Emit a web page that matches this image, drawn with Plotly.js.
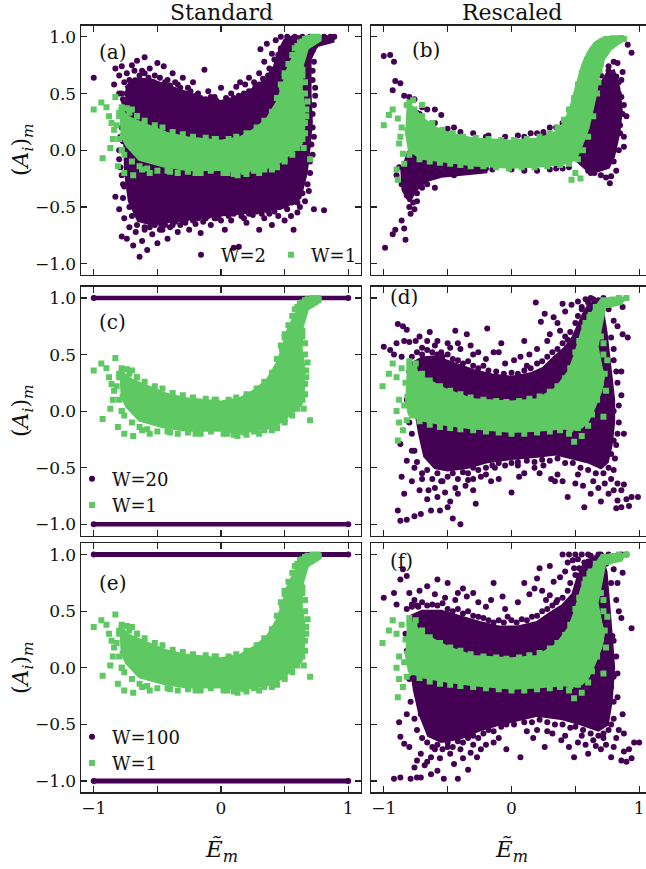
<!DOCTYPE html>
<html><head><meta charset="utf-8">
<script src="https://cdn.plot.ly/plotly-3.0.1.min.js"></script>
<style>html,body{margin:0;padding:0;overflow:hidden;background:#fff}#chart{width:656px;height:869px}</style>
</head><body><div id="chart"></div>
<script>
// ---------- DATA ----------
const panelLabels = ['(a)','(b)','(c)','(d)','(e)','(f)'];
const columnTitles = ['Standard','Rescaled'];
const xTickVals = [-1,0,1];
const xTickText = ['\u22121','0','1'];
const xMinorVals = [-0.5,0.5];
const yTickVals = [-1,-0.5,0,0.5,1];
const yTickText = ['\u22121.0','\u22120.5','0.0','0.5','1.0'];
const legendNames = {a:['W=2','W=1'], c:['W=20','W=1'], e:['W=100','W=1']};

// W=1, standard (panels a, c, e): dense core outline + scattered points
const stdGreenCoreX = [-0.8,-0.74,-0.69,-0.56,-0.43,-0.27,0,0.15,0.26,0.36,0.44,0.49,0.52,0.56,0.6,0.65,0.7,0.78,0.78,0.68,0.64,0.63,0.65,0.65,0.63,0.55,0.42,0.15,0,-0.27,-0.45,-0.64,-0.74,-0.79];
const stdGreenCoreY = [0.38,0.3,0.27,0.21,0.15,0.11,0.08,0.11,0.18,0.27,0.42,0.57,0.7,0.8,0.88,0.94,0.98,1.0,0.97,0.9,0.75,0.55,0.4,0.2,0.06,-0.02,-0.14,-0.19,-0.17,-0.17,-0.14,-0.08,0.04,0.15];
const stdGreenX = [-1.0,-0.94,-0.9,-0.88,-0.83,-0.86,-0.84,-0.85,-0.93,-0.87,-0.81,-0.76,-0.69,-0.62,-0.56,-0.74,-0.7,-0.66,0.13,0.4,0.3,0.6,0.64,0.61,0.66,0.68,0.67,0.66,0.65,0.7,0.55,0.58,0.62,0.66,0.72,0.76,0.5,0.48,-0.2,-0.4,0.2,0.5,-0.8,-0.78,0.05,-0.05,
  -0.78,-0.72,-0.66,-0.6,-0.52,-0.46,-0.38,-0.3,-0.22,-0.12,-0.04,0.06,0.12,0.2,0.28,0.34,0.4,0.44,0.47,0.5,0.53,0.56,0.6,0.64,0.68,
  -0.76,-0.7,-0.64,-0.58,-0.5,-0.42,-0.34,-0.26,-0.16,-0.08,0.02,0.1,0.18,0.26,0.34,0.44,0.5,0.56,0.6,0.66,0.64,0.67,0.66,0.64,-0.8,-0.82,-0.8,-0.78,0.7,0.74];
const stdGreenY = [0.36,0.42,0.38,0.3,0.47,0.24,0.18,0.1,-0.07,0.02,-0.14,-0.2,-0.22,-0.17,-0.2,0.37,0.36,0.3,-0.22,-0.17,-0.2,0.8,0.71,0.54,0.5,0.43,0.3,0.15,0.02,-0.08,0.75,0.9,0.95,0.98,1.0,1.0,0.65,0.55,-0.2,-0.19,-0.21,-0.1,0.33,0.0,-0.2,0.1,
  0.38,0.33,0.3,0.26,0.22,0.2,0.16,0.14,0.12,0.11,0.1,0.1,0.12,0.15,0.2,0.26,0.34,0.46,0.58,0.68,0.76,0.84,0.92,0.96,0.99,
  -0.04,-0.1,-0.14,-0.16,-0.18,-0.18,-0.2,-0.19,-0.2,-0.18,-0.2,-0.21,-0.19,-0.18,-0.17,-0.15,-0.08,-0.04,0.02,0.6,0.66,0.36,0.24,0.1,0.3,0.22,0.1,0.0,0.94,0.97];

// W=1, rescaled (panels d, f)
const resGreenCoreX = [-0.82,-0.75,-0.7,-0.5,-0.3,0,0.2,0.35,0.45,0.5,0.55,0.6,0.65,0.7,0.78,0.88,0.86,0.73,0.7,0.67,0.7,0.72,0.7,0.65,0.6,0.55,0.48,0.4,0.2,0,-0.3,-0.5,-0.7,-0.8,-0.83];
const resGreenCoreY = [0.38,0.36,0.3,0.18,0.1,0.08,0.1,0.2,0.35,0.5,0.7,0.8,0.9,0.98,1.0,1.0,0.95,0.92,0.74,0.57,0.4,0.3,0.18,0.04,-0.08,-0.14,-0.16,-0.15,-0.17,-0.18,-0.15,-0.12,-0.08,-0.03,0.15];
const resGreenX = [-1.01,-0.96,-0.93,-0.9,-0.86,-0.88,-0.9,-0.88,-0.85,-0.89,-0.8,-0.75,0.49,0.45,0.55,0.6,0.74,0.73,0.75,0.72,0.8,0.9,0.62,0.58,0.68,0.72,0.67,
  -0.8,-0.76,-0.7,-0.64,-0.56,-0.48,-0.4,-0.32,-0.22,-0.12,-0.04,0.06,0.14,0.22,0.3,0.36,0.42,0.46,0.5,0.53,0.57,0.61,0.66,0.72,0.84,
  -0.78,-0.72,-0.64,-0.56,-0.48,-0.4,-0.3,-0.2,-0.1,0.0,0.1,0.2,0.3,0.38,0.46,0.52,0.58,0.63,0.7,0.72,0.7,0.76,-0.83,-0.84,-0.82];
const resGreenY = [0.22,0.33,0.42,0.3,0.38,0.1,0.0,-0.1,-0.17,-0.26,0.44,0.42,-0.27,-0.2,-0.22,-0.13,0.18,0.33,0.45,0.6,0.97,1.0,0.85,0.78,0.82,-0.05,0.1,
  0.4,0.38,0.33,0.27,0.22,0.18,0.15,0.12,0.1,0.09,0.08,0.09,0.11,0.13,0.17,0.22,0.29,0.38,0.52,0.62,0.74,0.83,0.92,0.98,1.0,
  -0.04,-0.09,-0.12,-0.14,-0.15,-0.16,-0.17,-0.18,-0.19,-0.2,-0.2,-0.19,-0.18,-0.17,-0.16,-0.15,-0.1,-0.03,0.25,0.5,0.66,0.94,0.25,0.05,-0.08];

// W=1 in panel (b)
const bGreenCoreX = [-0.82,-0.75,-0.7,-0.6,-0.5,-0.3,0,0.2,0.3,0.38,0.43,0.47,0.5,0.53,0.56,0.6,0.65,0.7,0.78,0.86,0.86,0.78,0.72,0.68,0.66,0.63,0.6,0.55,0.5,0.4,0.2,0,-0.3,-0.5,-0.7,-0.8,-0.83];
const bGreenCoreY = [0.42,0.35,0.28,0.2,0.15,0.1,0.08,0.1,0.13,0.18,0.28,0.4,0.52,0.65,0.76,0.86,0.94,0.98,1.0,1.0,0.96,0.9,0.8,0.65,0.5,0.35,0.2,0.05,-0.08,-0.12,-0.14,-0.15,-0.13,-0.1,-0.07,0.0,0.2];
const bGreenX = [-1.0,-0.96,-0.93,-0.89,-0.87,-0.88,-0.85,-0.89,-0.84,-0.8,-0.77,-0.7,0.47,0.54,0.5,0.78,0.88,0.82,0.72,0.69,0.68,-0.9,-0.86,
  -0.82,-0.76,-0.7,-0.62,-0.54,-0.46,-0.38,-0.28,-0.18,-0.08,0.02,0.12,0.22,0.3,0.36,0.41,0.45,0.49,0.52,0.55,0.59,0.63,0.68,0.74,0.86,
  -0.8,-0.72,-0.64,-0.56,-0.48,-0.4,-0.32,-0.22,-0.12,-0.02,0.08,0.18,0.28,0.38,0.45,0.52,0.56,0.6,0.64,0.67,0.7];
const bGreenY = [0.22,0.31,0.36,0.28,0.12,0.06,-0.03,-0.26,-0.12,0.42,0.44,0.4,-0.26,-0.25,-0.2,0.92,0.98,0.98,0.85,0.7,0.6,-0.17,0.2,
  0.4,0.36,0.3,0.24,0.18,0.15,0.12,0.11,0.1,0.09,0.09,0.1,0.12,0.15,0.2,0.27,0.36,0.46,0.58,0.68,0.8,0.88,0.94,0.98,0.99,
  -0.04,-0.08,-0.1,-0.11,-0.12,-0.13,-0.14,-0.14,-0.15,-0.16,-0.15,-0.15,-0.14,-0.13,-0.12,-0.08,0.0,0.12,0.3,0.5,0.76];

// W=2 (panel a)
const aPurpleCoreX = [-0.75,-0.68,-0.55,-0.45,-0.3,-0.15,0,0.12,0.25,0.35,0.42,0.46,0.5,0.56,0.88,0.88,0.75,0.7,0.7,0.71,0.69,0.67,0.62,0.5,0.4,0.2,0,-0.2,-0.4,-0.55,-0.65,-0.72,-0.75,-0.76];
const aPurpleCoreY = [0.55,0.63,0.62,0.58,0.52,0.46,0.43,0.45,0.54,0.62,0.74,0.88,0.97,1.0,1.0,0.96,0.92,0.8,0.5,0.25,0.0,-0.2,-0.42,-0.5,-0.52,-0.55,-0.57,-0.6,-0.63,-0.65,-0.62,-0.45,-0.2,0.2];
const aPurpleX = [-1.0,-0.83,-0.8,-0.84,-0.78,-0.76,-0.74,-0.8,-0.77,-0.7,-0.66,-0.62,-0.6,-0.56,-0.52,-0.5,-0.45,-0.42,-0.38,-0.34,-0.3,-0.26,-0.22,-0.18,-0.13,-0.1,-0.05,0.0,0.04,0.08,0.12,0.15,0.19,0.22,0.26,0.3,0.31,0.34,0.36,0.38,0.4,0.43,0.47,0.52,0.58,0.64,0.7,0.76,0.81,0.86,0.89,0.74,0.7,0.72,0.74,0.73,0.72,0.71,0.7,0.68,0.66,
  0.73,0.81,0.6,0.57,0.5,0.45,0.4,0.34,0.3,0.25,0.2,0.14,0.1,0.08,0.03,-0.02,-0.08,-0.12,-0.16,-0.2,-0.25,-0.3,-0.34,-0.38,-0.42,-0.46,-0.5,-0.54,-0.58,-0.62,-0.64,-0.67,-0.69,-0.72,-0.74,-0.78,-0.76,-0.8,-0.83,-0.77,-0.79,-0.8,-0.78,-0.78,-0.6,-0.47,-0.28,-0.05,0.18,0.38,0.55,0.62,
  -0.74,-0.72,-0.68,-0.64,-0.6,-0.57,-0.53,-0.48,-0.44,-0.4,-0.36,-0.32,-0.28,-0.24,-0.2,-0.16,-0.12,-0.08,-0.04,0.02,0.06,0.1,0.14,0.18,0.22,0.27,0.3,0.33,0.37,0.4,0.42,0.45,0.47,0.5,0.54,0.6,0.66,0.62,
  -0.72,-0.7,-0.66,-0.6,-0.56,-0.52,-0.48,-0.44,-0.4,-0.36,-0.32,-0.28,-0.22,-0.18,-0.14,-0.1,-0.04,0.0,0.06,0.1,0.16,0.22,0.28,0.32,0.36,0.42,0.46,0.52,0.56,0.6,0.64,
  -0.77,-0.76,-0.78,-0.8,-0.77,-0.79,-0.76,-0.78,0.72,0.73,0.72,0.74,0.72,0.73,0.72,0.7,0.69];
const aPurpleY = [0.64,0.72,0.66,0.58,0.74,0.6,0.68,0.5,0.45,0.75,0.79,0.7,0.82,0.72,0.66,0.77,0.74,0.62,0.68,0.58,0.64,0.55,0.6,0.5,0.71,0.52,0.47,0.55,0.46,0.5,0.56,0.6,0.58,0.64,0.6,0.68,0.89,0.78,0.94,0.72,0.85,0.97,1.0,1.0,1.0,1.0,1.0,0.99,1.0,1.0,1.0,0.92,0.85,0.7,0.55,0.4,0.2,0.05,-0.1,-0.3,-0.45,
  -0.52,-0.53,-0.55,-0.7,-0.62,-0.58,-0.66,-0.6,-0.7,-0.57,-0.64,-0.85,-0.86,-0.62,-0.7,-0.58,-0.66,-0.6,-0.73,-0.65,-0.7,-0.62,-0.72,-0.66,-0.78,-0.7,-0.82,-0.74,-0.88,-0.8,-0.94,-0.72,-0.84,-0.68,-0.78,-0.76,-0.6,-0.52,-0.41,-0.3,-0.15,0.0,0.2,0.35,-0.68,-0.66,-0.64,-0.6,-0.6,-0.56,-0.58,-0.5,
  0.5,0.62,0.7,0.66,0.68,0.64,0.6,0.64,0.6,0.57,0.6,0.55,0.5,0.52,0.48,0.46,0.45,0.47,0.44,0.42,0.44,0.46,0.48,0.5,0.52,0.56,0.58,0.63,0.66,0.7,0.8,0.84,0.9,0.93,0.97,0.97,0.98,0.93,
  -0.5,-0.58,-0.66,-0.7,-0.68,-0.66,-0.7,-0.66,-0.68,-0.63,-0.66,-0.62,-0.62,-0.6,-0.63,-0.58,-0.6,-0.62,-0.58,-0.56,-0.58,-0.56,-0.54,-0.56,-0.53,-0.54,-0.5,-0.52,-0.46,-0.46,-0.38,
  -0.42,-0.32,-0.22,-0.08,0.08,0.12,0.42,0.5,0.88,0.78,0.62,0.48,0.32,0.12,-0.04,-0.2,-0.36];

// W=2 (panel b)
const bPurpleCoreLX = [-0.82,-0.6,-0.4,-0.2,-0.2,-0.4,-0.55,-0.67,-0.75,-0.8,-0.85,-0.86];
const bPurpleCoreLY = [-0.02,-0.09,-0.12,-0.13,-0.19,-0.21,-0.23,-0.27,-0.35,-0.45,-0.35,-0.15];
const bPurpleCoreRX = [0.6,0.68,0.75,0.8,0.84,0.86,0.84,0.8,0.76,0.68,0.58,0.52,0.56];
const bPurpleCoreRY = [0.3,0.55,0.68,0.7,0.55,0.35,0.15,-0.05,-0.15,-0.18,-0.16,-0.1,0.1];
const bPurpleX = [-1.0,-0.95,-0.92,-0.91,-0.87,-0.93,-0.84,-0.8,-0.76,-0.7,-0.6,-0.55,-0.45,-0.3,-0.18,-0.05,0.05,0.15,0.2,0.3,-0.88,-0.9,-0.86,-0.82,-0.8,-0.77,-0.74,-0.7,-0.66,-0.6,-0.79,-0.86,-0.84,-0.91,-0.93,-0.83,-0.99,-0.45,-0.2,0.0,0.2,0.35,0.45,
  0.91,0.94,0.8,0.83,0.87,0.79,0.84,0.86,0.88,0.87,0.85,0.88,0.84,0.8,0.78,0.77,0.7,0.65,0.6,0.85,0.82,0.76,-0.82,-0.74,-0.66,0.1,0.25,
  -0.6,-0.5,-0.4,-0.2,0.1,0.25,0.35,0.4,-0.7,-0.6,-0.5,-0.35,-0.15,0.1,0.3,0.4,-0.78,-0.82,-0.76,-0.74,-0.72,0.66,0.7,0.76,0.9,0.88,0.84,0.86,0.82,0.74,0.62,-0.8,-0.78,-0.72];
const bPurpleY = [0.83,0.84,0.78,0.61,0.59,0.53,0.48,0.47,0.45,0.38,0.36,0.31,0.2,0.15,0.13,0.12,0.13,0.15,0.15,0.2,-0.15,-0.22,-0.3,-0.4,-0.5,-0.46,-0.38,-0.33,-0.3,-0.33,-0.56,-0.62,-0.69,-0.7,-0.74,-0.79,-0.86,-0.22,-0.16,-0.17,-0.18,-0.16,-0.15,
  0.93,0.86,0.78,0.77,0.69,0.59,0.6,0.47,0.4,0.32,0.22,0.03,0.0,-0.1,-0.23,-0.29,-0.22,-0.2,-0.18,0.15,0.65,0.7,0.4,0.33,0.36,-0.17,0.14,
  0.24,0.19,0.16,0.12,0.12,0.16,0.2,0.24,-0.16,-0.2,-0.19,-0.18,-0.17,-0.18,-0.17,-0.16,-0.3,-0.28,-0.52,-0.45,-0.28,0.6,0.66,0.74,0.3,0.12,0.5,0.62,-0.18,-0.24,-0.2,0.3,0.26,0.32];

// W=20 / W=100 (panels c, e): all values at exactly +1 and -1
const flatX = [-1, 1];
const flatTopY = [1, 1];
const flatBotY = [-1, -1];

// W=2 rescaled (panel d)
const dPurpleCoreX = [-0.78,-0.7,-0.6,-0.5,-0.4,-0.3,-0.15,0,0.15,0.25,0.33,0.42,0.48,0.52,0.56,0.6,0.66,0.7,0.72,0.74,0.76,0.78,0.8,0.8,0.78,0.75,0.7,0.6,0.5,0.35,0.2,0,-0.2,-0.35,-0.5,-0.6,-0.68,-0.72,-0.75,-0.78];
const dPurpleCoreY = [0.42,0.47,0.48,0.44,0.4,0.36,0.32,0.3,0.33,0.38,0.47,0.56,0.65,0.75,0.85,0.93,0.97,0.98,0.85,0.7,0.5,0.3,0.1,-0.1,-0.3,-0.45,-0.5,-0.45,-0.42,-0.38,-0.4,-0.42,-0.45,-0.5,-0.52,-0.5,-0.4,-0.2,0.0,0.2];
const dPurpleX = [-0.89,-0.85,-0.82,-1.0,-0.95,-0.92,-0.8,-0.75,-0.7,-0.66,-0.6,-0.55,-0.5,-0.44,-0.35,-0.4,-0.3,-0.19,-0.2,-0.1,-0.05,0.07,0.12,0.19,0.23,0.2,0.28,0.33,0.38,0.42,0.47,0.52,0.58,0.62,0.68,0.72,0.55,0.87,0.87,0.91,0.83,0.8,0.86,0.83,0.86,0.8,0.84,0.88,0.82,
  -0.87,-0.82,-0.86,-0.84,-0.89,-0.87,-0.82,-0.76,-0.71,-0.63,-0.56,-0.5,-0.4,-0.46,-0.58,-0.42,-0.34,-0.24,-0.13,0.0,0.18,0.31,0.34,0.44,0.5,0.57,0.62,0.73,0.76,0.83,0.86,0.88,0.83,0.86,0.94,0.99,0.8,0.78,0.8,-0.7,-0.65,-0.76,-0.78,-0.8,-0.82,-0.78,-0.1,0.1,0.25,0.05,-0.3,-0.55,
  -0.78,-0.74,-0.7,-0.66,-0.62,-0.58,-0.54,-0.5,-0.46,-0.42,-0.38,-0.34,-0.3,-0.26,-0.22,-0.18,-0.12,-0.06,0.0,0.05,0.1,0.15,0.2,0.24,0.28,0.32,0.36,0.4,0.44,0.46,0.5,0.52,0.55,0.6,0.64,
  -0.9,-0.86,-0.84,-0.72,-0.64,-0.58,-0.48,-0.42,-0.32,-0.26,-0.14,-0.08,0.02,0.1,0.14,0.3,0.36,0.42,0.26,0.4,
  -0.74,-0.7,-0.66,-0.62,-0.58,-0.54,-0.5,-0.46,-0.42,-0.38,-0.34,-0.3,-0.26,-0.2,-0.15,-0.1,-0.05,0.0,0.05,0.12,0.18,0.24,0.3,0.36,0.42,0.48,0.54,0.6,0.66,0.72,0.76,
  -0.78,-0.72,-0.66,-0.6,-0.52,-0.48,-0.44,-0.36,-0.3,-0.28,-0.16,-0.2,0.06,0.22,0.36,0.4,0.52,0.56,0.64,0.68,0.7,0.78,0.8,0.9,0.92,0.82,
  0.8,0.78,0.8,0.82,0.84,0.83,0.81,0.76,0.72,-0.8,-0.8,-0.79,-0.78,-0.76];
const dPurpleY = [0.77,0.75,0.72,0.57,0.54,0.5,0.61,0.62,0.56,0.62,0.58,0.52,0.6,0.71,0.68,0.55,0.5,0.73,0.46,0.52,0.42,0.48,0.4,0.96,0.79,0.55,0.62,0.83,0.71,0.66,0.94,0.97,0.99,1.0,0.98,0.95,0.9,0.92,0.68,0.65,0.75,0.55,0.35,0.25,0.14,0.0,-0.1,-0.2,-0.3,
  -0.29,-0.44,-0.58,-0.73,-0.88,-0.97,-0.96,-0.93,-0.91,-0.88,-0.88,-0.85,-1.0,-0.95,-0.76,-0.73,-0.61,-0.58,-0.5,-0.72,-0.5,-0.6,-0.62,-0.76,-0.64,-0.85,-0.73,-0.64,-0.73,-0.64,-0.7,-0.65,-0.79,-0.85,-0.76,-0.76,-0.52,-0.38,-0.26,-0.6,-0.7,-0.5,-0.35,-0.1,0.1,0.3,-0.6,-0.55,-0.48,-0.48,-0.7,-0.62,
  0.48,0.52,0.5,0.54,0.52,0.5,0.48,0.5,0.46,0.45,0.42,0.44,0.4,0.38,0.4,0.36,0.35,0.33,0.34,0.33,0.36,0.38,0.42,0.44,0.48,0.52,0.55,0.6,0.63,0.7,0.78,0.84,0.92,0.96,0.99,
  0.6,0.48,0.62,0.66,0.7,0.62,0.56,0.6,0.58,0.52,0.52,0.6,0.45,0.62,0.5,0.68,0.78,0.88,0.86,0.95,
  -0.45,-0.55,-0.52,-0.6,-0.55,-0.62,-0.58,-0.55,-0.6,-0.54,-0.55,-0.5,-0.52,-0.5,-0.48,-0.46,-0.48,-0.46,-0.45,-0.44,-0.45,-0.43,-0.44,-0.42,-0.46,-0.46,-0.5,-0.52,-0.55,-0.55,-0.5,
  -0.62,-0.7,-0.78,-0.68,-0.72,-0.8,-0.68,-0.66,-0.6,-0.82,-0.62,-0.56,-0.58,-0.55,-0.56,-0.62,-0.56,-0.66,-0.62,-0.68,-0.8,-0.6,-0.7,-0.78,-0.84,-0.86,
  0.8,0.65,0.45,0.35,0.05,-0.2,-0.42,0.9,1.0,0.35,0.2,0.0,-0.2,-0.35];

// W=2 rescaled (panel f)
const fPurpleCoreX = [-0.8,-0.7,-0.55,-0.4,-0.25,-0.1,0.05,0.2,0.3,0.4,0.48,0.52,0.56,0.62,0.7,0.74,0.76,0.78,0.8,0.78,0.75,0.68,0.55,0.4,0.2,0.08,-0.1,-0.25,-0.4,-0.55,-0.65,-0.72,-0.76,-0.8];
const fPurpleCoreY = [0.45,0.5,0.5,0.45,0.4,0.36,0.36,0.4,0.48,0.55,0.65,0.8,0.9,0.96,0.98,0.85,0.6,0.3,0.0,-0.3,-0.5,-0.55,-0.5,-0.45,-0.42,-0.45,-0.5,-0.55,-0.62,-0.65,-0.6,-0.4,-0.2,0.1];
const fPurpleX = [-1.0,-0.92,-0.87,-0.82,-0.85,-0.8,-0.76,-0.73,-0.78,-0.58,-0.5,-0.42,-0.35,-0.3,-0.2,-0.14,-0.07,-0.03,0.1,0.18,0.2,0.27,0.33,0.4,0.45,0.5,0.55,0.6,0.68,0.76,0.86,0.9,0.44,0.49,0.54,0.6,0.8,0.83,0.87,0.94,0.86,0.75,0.8,0.8,0.78,0.73,0.35,0.6,0.79,
  -0.92,-0.87,-0.79,-0.74,-0.71,-0.63,-0.58,-0.53,-0.42,-0.74,-0.66,-0.63,-0.71,-0.84,-0.87,-0.88,-0.82,-0.71,-0.58,-0.6,-0.5,-0.45,-0.38,-0.32,-0.27,-0.34,-0.2,-0.1,-0.04,0.07,0.17,0.26,0.28,0.39,0.45,0.49,0.55,0.6,0.66,0.72,0.78,0.82,0.86,0.9,0.96,1.0,0.88,0.87,0.83,0.88,0.78,
  -0.82,-0.78,-0.74,-0.7,-0.66,-0.62,-0.58,-0.54,-0.5,-0.46,-0.42,-0.38,-0.34,-0.3,-0.26,-0.22,-0.18,-0.14,-0.1,-0.06,0.0,0.04,0.08,0.12,0.16,0.2,0.24,0.28,0.32,0.36,0.4,0.44,0.46,0.5,0.53,0.57,0.62,0.66,0.7,
  -0.9,-0.72,-0.66,-0.6,-0.52,-0.44,-0.38,-0.26,-0.16,-0.05,0.05,0.14,0.24,0.3,0.38,0.42,0.48,0.52,0.3,0.22,
  -0.76,-0.74,-0.7,-0.66,-0.62,-0.58,-0.54,-0.5,-0.46,-0.42,-0.38,-0.34,-0.3,-0.26,-0.22,-0.18,-0.14,-0.08,-0.04,0.02,0.1,0.16,0.22,0.28,0.34,0.4,0.46,0.5,0.56,0.62,0.68,0.72,0.76,0.8,
  -0.8,-0.76,-0.68,-0.56,-0.48,-0.4,-0.3,-0.24,-0.14,0.12,0.2,0.32,0.42,0.52,0.58,0.64,0.7,0.74,0.84,0.92,0.94,0.8,
  0.82,0.84,0.82,0.83,0.8,0.78,0.74,-0.83,-0.82,-0.8,-0.79];
const fPurpleY = [0.62,0.66,0.78,0.81,0.87,0.66,0.6,0.54,0.54,0.78,0.75,0.66,0.63,0.66,0.54,0.75,0.63,0.45,0.75,0.7,0.79,0.6,0.76,1.0,1.0,1.0,1.0,1.0,1.0,1.0,1.0,1.0,0.93,0.88,0.8,0.94,0.87,0.75,0.84,0.35,0.44,0.4,0.24,-0.08,-0.17,-0.26,0.58,0.55,0.28,
  -0.98,-0.97,-0.98,-0.97,-0.97,-0.94,-0.91,-0.98,-0.98,-0.82,-0.83,-0.79,-0.76,-0.67,-0.61,-0.48,-0.41,-0.41,-0.58,-0.72,-0.7,-0.85,-0.8,-0.75,-0.79,-0.9,-0.68,-0.62,-0.72,-0.79,-0.62,-0.7,-0.56,-0.64,-0.7,-0.79,-0.6,-0.76,-0.69,-0.62,-0.79,-0.62,-0.82,-0.83,-0.66,-0.66,-0.74,-0.41,-0.26,-0.58,-0.5,
  0.52,0.56,0.55,0.58,0.55,0.56,0.55,0.57,0.52,0.5,0.52,0.48,0.5,0.46,0.45,0.44,0.42,0.4,0.42,0.4,0.42,0.4,0.43,0.42,0.45,0.46,0.5,0.52,0.55,0.6,0.62,0.68,0.75,0.82,0.88,0.93,0.99,0.97,1.0,
  0.56,0.68,0.72,0.65,0.62,0.6,0.7,0.58,0.6,0.52,0.58,0.65,0.68,0.64,0.8,0.85,0.95,0.96,0.9,0.88,
  -0.45,-0.55,-0.62,-0.66,-0.7,-0.68,-0.72,-0.66,-0.7,-0.65,-0.66,-0.62,-0.6,-0.62,-0.58,-0.55,-0.56,-0.52,-0.5,-0.5,-0.48,-0.48,-0.46,-0.48,-0.5,-0.5,-0.53,-0.52,-0.55,-0.58,-0.6,-0.58,-0.55,-0.45,
  -0.7,-0.88,-0.86,-0.8,-0.76,-0.72,-0.68,-0.72,-0.66,-0.56,-0.55,-0.58,-0.6,-0.66,-0.68,-0.64,-0.72,-0.68,-0.55,-0.72,-0.8,-0.7,
  0.6,0.5,0.1,-0.05,-0.3,0.75,0.92,0.3,0.15,-0.1,-0.3];

// ---------- STYLE ----------
const purple = '#440154', green = '#5ec962';
const W = 656, H = 869;
const serif = 'DejaVu Serif, serif';
const px = v => v / W, py = v => 1 - v / H;
const colDom = [[px(81), px(361)], [px(371), px(652)]];
const rowDom = [[py(275), py(25.5)], [py(535.5), py(286.7)], [py(792.3), py(543.3)]];

function core(x, y, color, n) {
  return {type:'scatter', mode:'lines', x:x, y:y, xaxis:'x'+n, yaxis:'y'+n, fill:'toself', fillcolor:color,
          line:{color:color, width:3}, showlegend:false, hoverinfo:'skip'};
}
function pts(x, y, color, sym, n, name, legend, show) {
  return {type:'scatter', mode:'markers', x:x, y:y, xaxis:'x'+n, yaxis:'y'+n, name:name, legend:legend,
          showlegend:show, marker:{color:color, size:6, symbol:sym}, hoverinfo:'skip'};
}
function flat(y, n, w) {
  return {type:'scatter', mode:'lines', x:flatX, y:y, xaxis:'x'+n, yaxis:'y'+n, showlegend:false,
          line:{color:purple, width:w}, hoverinfo:'skip'};
}

const traces = [
  core(aPurpleCoreX, aPurpleCoreY, purple, ''),
  pts(aPurpleX, aPurpleY, purple, 'circle', '', legendNames.a[0], 'legend', true),
  core(stdGreenCoreX, stdGreenCoreY, green, ''),
  pts(stdGreenX, stdGreenY, green, 'square', '', legendNames.a[1], 'legend', true),
  core(bPurpleCoreLX, bPurpleCoreLY, purple, 2),
  core(bPurpleCoreRX, bPurpleCoreRY, purple, 2),
  pts(bPurpleX, bPurpleY, purple, 'circle', 2, legendNames.a[0], 'legend', false),
  core(bGreenCoreX, bGreenCoreY, green, 2),
  pts(bGreenX, bGreenY, green, 'square', 2, legendNames.a[1], 'legend', false),
  flat(flatTopY, 3, 4.5), flat(flatBotY, 3, 4.5),
  pts(flatX.concat(flatX), flatTopY.concat(flatBotY), purple, 'circle', 3, legendNames.c[0], 'legend2', true),
  core(stdGreenCoreX, stdGreenCoreY, green, 3),
  pts(stdGreenX, stdGreenY, green, 'square', 3, legendNames.c[1], 'legend2', true),
  core(dPurpleCoreX, dPurpleCoreY, purple, 4),
  pts(dPurpleX, dPurpleY, purple, 'circle', 4, legendNames.c[0], 'legend2', false),
  core(resGreenCoreX, resGreenCoreY, green, 4),
  pts(resGreenX, resGreenY, green, 'square', 4, legendNames.c[1], 'legend2', false),
  flat(flatTopY, 5, 5), flat(flatBotY, 5, 5),
  pts(flatX.concat(flatX), flatTopY.concat(flatBotY), purple, 'circle', 5, legendNames.e[0], 'legend3', true),
  core(stdGreenCoreX, stdGreenCoreY, green, 5),
  pts(stdGreenX, stdGreenY, green, 'square', 5, legendNames.e[1], 'legend3', true),
  core(fPurpleCoreX, fPurpleCoreY, purple, 6),
  pts(fPurpleX, fPurpleY, purple, 'circle', 6, legendNames.e[0], 'legend3', false),
  core(resGreenCoreX, resGreenCoreY, green, 6),
  pts(resGreenX, resGreenY, green, 'square', 6, legendNames.e[1], 'legend3', false)
];

const tickFont = {family:serif, size:17, color:'#111'};
function xax(i, row, col) {
  return {domain:colDom[col], anchor:'y'+(i===1?'':i), range:[-1.1,1.1], tickmode:'array', tickvals:xTickVals, ticktext:xTickText,
          minor:{tickmode:'array', tickvals:xMinorVals, ticks:'inside', ticklen:6, tickwidth:1.2, tickcolor:'#222', showgrid:false},
          showticklabels:row===2, ticks:'inside', ticklen:6, tickwidth:1.2, tickcolor:'#222', mirror:'ticks',
          showline:true, linecolor:'#222', linewidth:1.4, showgrid:false, zeroline:false, tickfont:tickFont, fixedrange:true};
}
function yax(i, row, col) {
  return {domain:rowDom[row], anchor:'x'+(i===1?'':i), range:[-1.1,1.1], tickmode:'array', tickvals:yTickVals, ticktext:yTickText,
          showticklabels:col===0, ticks:'inside', ticklen:6, tickwidth:1.2, tickcolor:'#222', mirror:'ticks',
          showline:true, linecolor:'#222', linewidth:1.4, showgrid:false, zeroline:false, tickfont:tickFont, fixedrange:true};
}

const ann = [];
ann.push({text:columnTitles[0], x:(colDom[0][0]+colDom[0][1])/2, y:py(13), xref:'paper', yref:'paper', showarrow:false, xanchor:'center', yanchor:'middle', font:{family:serif, size:22, color:'#111'}});
ann.push({text:columnTitles[1], x:(colDom[1][0]+colDom[1][1])/2, y:py(13), xref:'paper', yref:'paper', showarrow:false, xanchor:'center', yanchor:'middle', font:{family:serif, size:22, color:'#111'}});
const labPos = [[97,52],[410,50],[97,322],[388,297],[97,583],[388,561]];
panelLabels.forEach((t,i)=>{
  ann.push({text:t, x:px(labPos[i][0]), y:py(labPos[i][1]), xref:'paper', yref:'paper', showarrow:false, xanchor:'left', yanchor:'middle', font:{family:serif, size:20, color:'#111'}});
});
const yTitle = '(<i>A<sub>i</sub></i>)<sub><i>m</i></sub>';
[150, 411, 668].forEach(c=>{
  ann.push({text:yTitle, x:px(22), y:py(c), xref:'paper', yref:'paper', showarrow:false, textangle:-90, xanchor:'center', yanchor:'middle', font:{family:serif, size:22, color:'#111'}});
});
const xTitle = '<i>\u1EBC<sub>m</sub></i>';
[221, 511].forEach(c=>{
  ann.push({text:xTitle, x:px(c), y:py(850), xref:'paper', yref:'paper', showarrow:false, xanchor:'center', yanchor:'middle', font:{family:serif, size:23, color:'#111'}});
});

const legFont = {family:serif, size:18, color:'#111'};
const layout = {
  width:W, height:H, margin:{l:0, r:0, t:0, b:0, pad:0},
  paper_bgcolor:'#fff', plot_bgcolor:'#fff', showlegend:true,
  xaxis:xax(1,0,0), yaxis:yax(1,0,0),
  xaxis2:xax(2,0,1), yaxis2:yax(2,0,1),
  xaxis3:xax(3,1,0), yaxis3:yax(3,1,0),
  xaxis4:xax(4,1,1), yaxis4:yax(4,1,1),
  xaxis5:xax(5,2,0), yaxis5:yax(5,2,0),
  xaxis6:xax(6,2,1), yaxis6:yax(6,2,1),
  legend:{orientation:'h', x:px(362), xanchor:'right', y:py(255), yanchor:'middle', bgcolor:'rgba(0,0,0,0)', font:legFont, itemwidth:30, tracegroupgap:0},
  legend2:{x:px(72), xanchor:'left', y:py(492), yanchor:'middle', bgcolor:'rgba(0,0,0,0)', font:legFont, itemwidth:30, tracegroupgap:0},
  legend3:{x:px(72), xanchor:'left', y:py(750), yanchor:'middle', bgcolor:'rgba(0,0,0,0)', font:legFont, itemwidth:30, tracegroupgap:0},
  annotations:ann
};
Plotly.newPlot('chart', traces, layout, {staticPlot:true, displayModeBar:false});
</script>
</body></html>
